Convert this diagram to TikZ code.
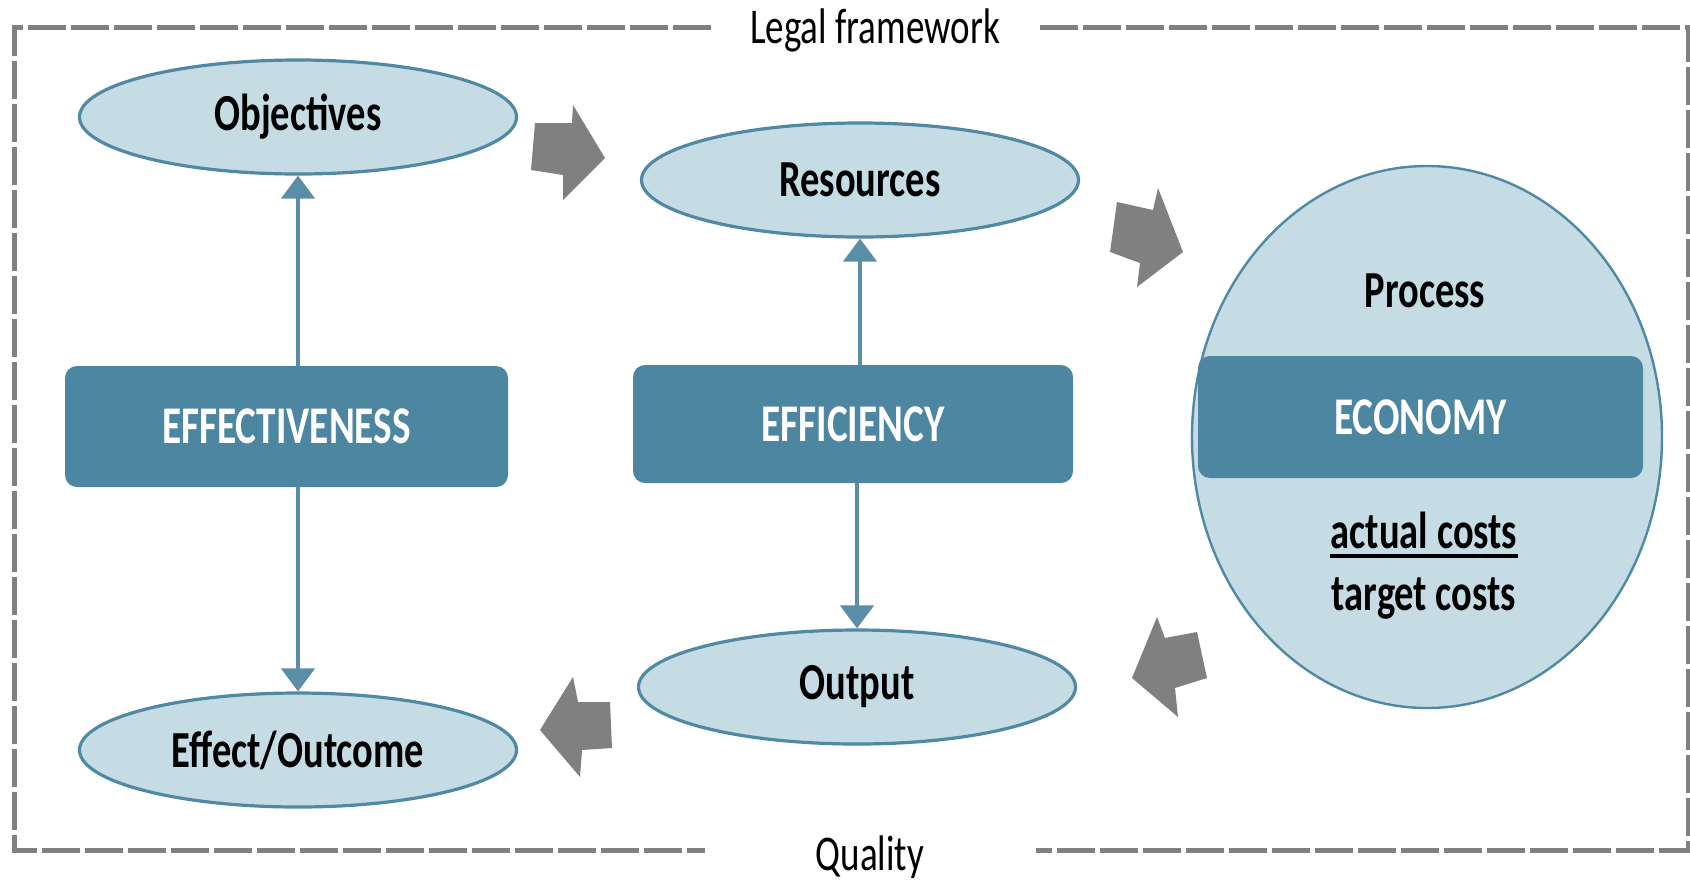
\documentclass[tikz,border=0pt]{standalone}
\usepackage{fontspec}
\setmainfont{Carlito}[FakeStretch=0.74]
\usetikzlibrary{shapes.geometric,arrows.meta}
\definecolor{efill}{HTML}{C6DCE5}
\definecolor{edraw}{HTML}{5089A3}
\definecolor{boxc}{HTML}{4C86A0}
\definecolor{arrc}{HTML}{5A8DA6}
\definecolor{grayc}{HTML}{808080}
\begin{document}
\begin{tikzpicture}[x=0.5pt,y=-0.5pt,
  oval/.style={ellipse, draw=edraw, line width=1.6pt, fill=efill, inner sep=0pt,
    minimum width=218.5pt, minimum height=57pt, font=\fontsize{26}{30}\selectfont\bfseries},
  bar/.style={rounded corners=6pt, fill=boxc, text=white, inner sep=0pt,
    font=\fontsize{26.5}{30}\selectfont\bfseries},
  lbl/.style={inner sep=0pt, font=\fontsize{26}{30}\selectfont\bfseries},
  plainlbl/.style={inner sep=0pt, font=\fontsize{25}{30}\selectfont},
  conn/.style={draw=arrc, line width=2.3pt, -{Triangle[width=16.5pt,length=11.5pt]}},
  blk/.style={fill=grayc},
  frame/.style={draw=grayc, line width=2.5pt, dash pattern=on 19pt off 2.5pt}]
\useasboundingbox (0,0) rectangle (1690,880);

% frame
\draw[frame] (711,27) -- (14,27) -- (14,850) -- (705,850);
\draw[frame] (1040,27) -- (1688,27) -- (1688,850) -- (1036,850);
\node[plainlbl] (legal) at (875,30) {Legal framework};
\node[plainlbl] (quality) at (870,857) {Quality};

% ovals
\node[oval] (obj) at (298,117) {Objectives};
\node[oval] (res) at (860,180) {Resources};
\node[oval] (out) at (857,687) {Output};
\node[oval] (eff) at (298,750) {Effect/Outcome};

% boxes
\node[bar, minimum width=221.5pt, minimum height=60.5pt] (effe) at (286.5,426.5) {EFFECTIVENESS};
\node[bar, minimum width=220pt, minimum height=59pt] (effi) at (853,424) {EFFICIENCY};

% process
\node[ellipse, draw=edraw, line width=1.2pt, fill=efill, inner sep=0pt,
  minimum width=235pt, minimum height=271pt] (proc) at (1427,437) {};
\node[bar, minimum width=222.5pt, minimum height=61pt] (eco) at (1420.5,417) {ECONOMY};
\node[lbl] (ptxt) at (1425,291) {Process};
\node[lbl] (ac) at (1424,530) {actual costs};
\node[lbl] (tc) at (1424,598) {target costs};
\draw[line width=2pt] ([yshift=-3.8pt]ac.base west) -- ([yshift=-3.8pt]ac.base east);

% connectors
\draw[conn] (obj.south |- effe.north) -- (obj.south);
\draw[conn] (obj.south |- effe.south) -- (eff.north);
\draw[conn] (res.south |- effi.north) -- (res.south);
\draw[conn] (out.north |- effi.south) -- (out.north);

% block arrows
\fill[blk] (535,123) -- (572,123) -- (573,105) -- (605,158) -- (563,200) -- (563,175) -- (531,170) -- cycle;
\fill[blk] (1117,202) -- (1153,210) -- (1158,188) -- (1183,252) -- (1137,287) -- (1140,263) -- (1110,252) -- cycle;
\fill[blk] (1132,678) -- (1157,617) -- (1165,638) -- (1197,632) -- (1207,678) -- (1175,688) -- (1178,717) -- cycle;
\fill[blk] (540,730) -- (573,677) -- (578,702) -- (610,702) -- (612,748) -- (582,750) -- (580,777) -- cycle;
\end{tikzpicture}
\end{document}
